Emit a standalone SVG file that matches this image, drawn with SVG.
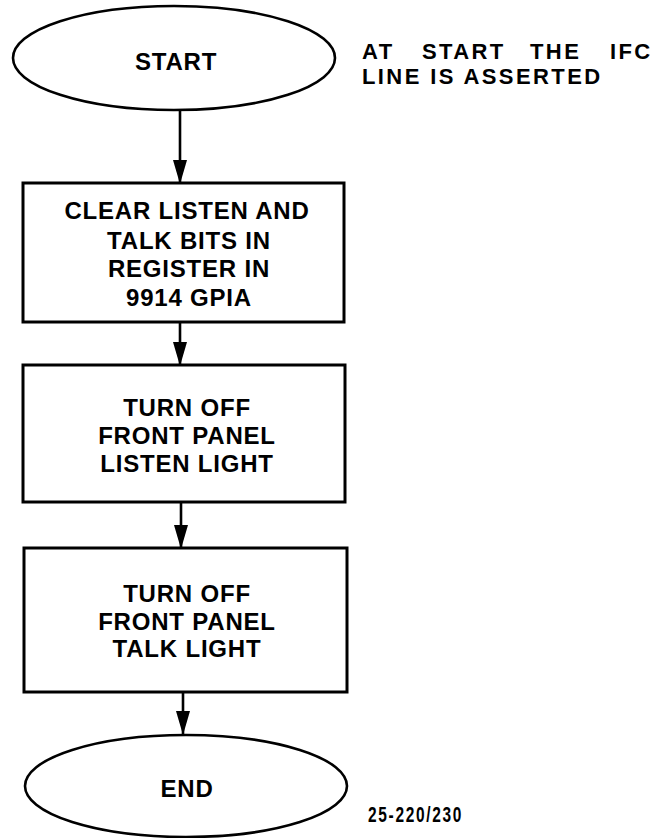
<svg xmlns="http://www.w3.org/2000/svg" width="668" height="838" viewBox="0 0 668 838">
<style>
  .shape { fill: #fff; stroke: #000; stroke-width: 3; }
  .oval { fill: #fff; stroke: #000; stroke-width: 2.6; }
  .lbl { font-family: "Liberation Sans", Arial, sans-serif; font-weight: bold; font-size: 24px; letter-spacing: 0.8px; fill: #000; text-anchor: middle; }
  .note { font-family: "Liberation Sans", Arial, sans-serif; font-weight: bold; font-size: 22px; letter-spacing: 2.4px; fill: #000; }
  .edge { stroke: #000; stroke-width: 2.6; fill: none; marker-end: url(#arr); }
</style>
<defs>
  <marker id="arr" markerUnits="userSpaceOnUse" markerWidth="24" markerHeight="14" refX="23" refY="7" orient="auto" viewBox="0 0 24 14">
    <path d="M0,0 L24,7 L0,14 Z" fill="#000"/>
  </marker>
</defs>
<rect width="668" height="838" fill="#fff"/>
<g id="connectors">
  <line class="edge" x1="180" y1="110" x2="180" y2="183"/>
  <line class="edge" x1="180" y1="322" x2="180" y2="365"/>
  <line class="edge" x1="181" y1="502" x2="181" y2="548"/>
  <line class="edge" x1="183" y1="692" x2="183" y2="734"/>
</g>
<g id="start">
  <ellipse class="oval" cx="174" cy="58" rx="161" ry="52"/>
  <text class="lbl" x="176" y="70">START</text>
</g>
<g id="note">
  <text class="note" x="362" y="59">AT</text>
  <text class="note" x="422" y="59">START</text>
  <text class="note" x="530" y="59">THE</text>
  <text class="note" x="610" y="59">IFC</text>
  <text class="note" x="362" y="84">LINE IS ASSERTED</text>
</g>
<g id="clear">
  <rect class="shape" x="23" y="183" width="321" height="139"/>
  <text class="lbl" x="187" y="219">CLEAR LISTEN AND</text>
  <text class="lbl" x="189" y="248.5">TALK BITS IN</text>
  <text class="lbl" x="189" y="276.5">REGISTER IN</text>
  <text class="lbl" x="189" y="305.5">9914 GPIA</text>
</g>
<g id="listen">
  <rect class="shape" x="23" y="365" width="322" height="137"/>
  <text class="lbl" x="187" y="415.5">TURN OFF</text>
  <text class="lbl" x="187" y="443.5">FRONT PANEL</text>
  <text class="lbl" x="187" y="471.5">LISTEN LIGHT</text>
</g>
<g id="talk">
  <rect class="shape" x="24" y="548" width="323" height="144"/>
  <text class="lbl" x="187" y="601.5">TURN OFF</text>
  <text class="lbl" x="187" y="630">FRONT PANEL</text>
  <text class="lbl" x="187" y="656.5">TALK LIGHT</text>
</g>
<g id="end">
  <ellipse class="oval" cx="186" cy="786" rx="161" ry="51"/>
  <text class="lbl" x="187" y="797">END</text>
</g>
<text class="note" x="368" y="822" font-size="18" letter-spacing="0" textLength="95" lengthAdjust="spacingAndGlyphs">25-220/230</text>
</svg>
